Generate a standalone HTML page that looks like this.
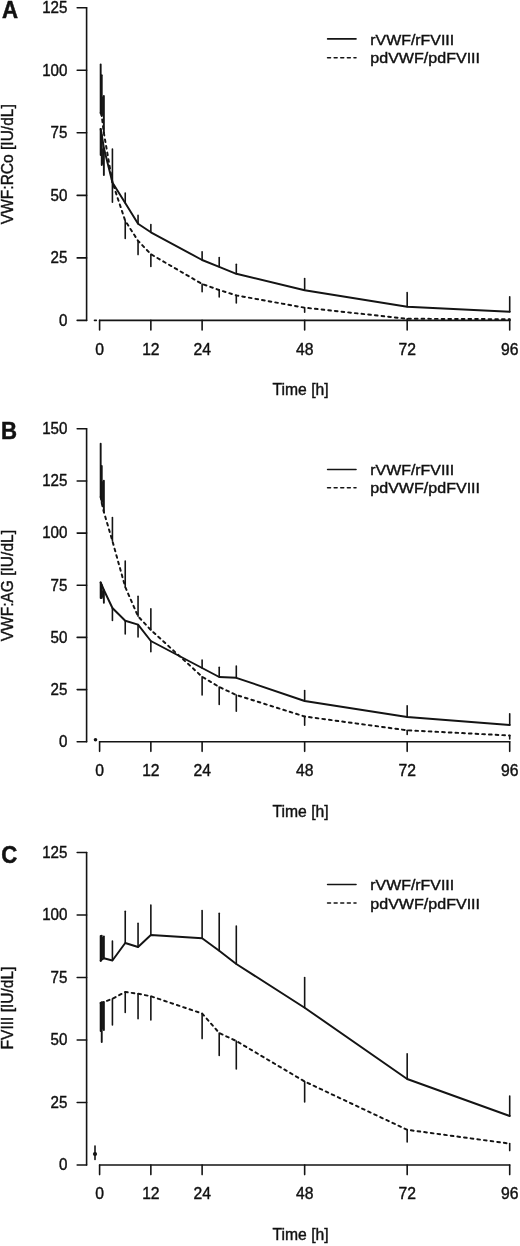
<!DOCTYPE html>
<html lang="en"><head><meta charset="utf-8"><title>Figure</title>
<style>
html,body{margin:0;padding:0;background:#fff;}
body{width:520px;height:1246px;overflow:hidden;}
svg{display:block;filter:blur(0.3px);}
.ln line,.ln polyline{stroke:#141414;stroke-width:1.6;stroke-linecap:round;stroke-linejoin:round;}
.ln polyline.cv{stroke-width:1.95;}
text{font-family:"Liberation Sans",Arial,Helvetica,sans-serif;fill:#111;}
.t{font-size:15.7px;stroke:#111;stroke-width:0.4px;}
.lg{font-size:14.4px;}
.pl{font-size:23.4px;font-weight:bold;stroke:#111;stroke-width:0.5px;}
</style></head><body>
<svg width="520" height="1246" viewBox="0 0 520 1246">
<rect x="0" y="0" width="520" height="1246" fill="#fff"/>
<g class="ln">
<line x1="86.60" y1="7.80" x2="86.60" y2="320.40" />
<line x1="77.20" y1="7.80" x2="86.60" y2="7.80" />
<line x1="77.20" y1="70.30" x2="86.60" y2="70.30" />
<line x1="77.20" y1="132.80" x2="86.60" y2="132.80" />
<line x1="77.20" y1="195.40" x2="86.60" y2="195.40" />
<line x1="77.20" y1="257.90" x2="86.60" y2="257.90" />
<line x1="77.20" y1="320.40" x2="86.60" y2="320.40" />
<line x1="99.60" y1="320.40" x2="509.70" y2="320.40" />
<line x1="99.60" y1="320.40" x2="99.60" y2="330.00" />
<line x1="150.86" y1="320.40" x2="150.86" y2="330.00" />
<line x1="202.12" y1="320.40" x2="202.12" y2="330.00" />
<line x1="304.65" y1="320.40" x2="304.65" y2="330.00" />
<line x1="407.18" y1="320.40" x2="407.18" y2="330.00" />
<line x1="509.70" y1="320.40" x2="509.70" y2="330.00" />
<line x1="100.67" y1="129.00" x2="100.67" y2="155.00" style="stroke-width:1.9"/>
<line x1="100.67" y1="113.00" x2="100.67" y2="64.50" style="stroke-width:1.9"/>
<line x1="101.74" y1="135.00" x2="101.74" y2="165.00" style="stroke-width:1.9"/>
<line x1="101.74" y1="116.00" x2="101.74" y2="75.20" style="stroke-width:1.9"/>
<line x1="103.87" y1="148.00" x2="103.87" y2="175.00" style="stroke-width:1.9"/>
<line x1="103.87" y1="133.00" x2="103.87" y2="96.00" style="stroke-width:1.9"/>
<line x1="112.42" y1="182.60" x2="112.42" y2="149.00" />
<line x1="112.42" y1="182.30" x2="112.42" y2="202.30" />
<line x1="125.23" y1="203.00" x2="125.23" y2="193.00" />
<line x1="125.23" y1="220.80" x2="125.23" y2="238.50" />
<line x1="138.05" y1="223.80" x2="138.05" y2="215.40" />
<line x1="138.05" y1="240.80" x2="138.05" y2="254.60" />
<line x1="150.86" y1="232.30" x2="150.86" y2="224.60" />
<line x1="150.86" y1="254.20" x2="150.86" y2="266.50" />
<line x1="202.12" y1="260.00" x2="202.12" y2="251.80" />
<line x1="202.12" y1="284.00" x2="202.12" y2="291.70" />
<line x1="219.21" y1="266.80" x2="219.21" y2="257.60" />
<line x1="219.21" y1="290.00" x2="219.21" y2="297.00" />
<line x1="236.30" y1="273.80" x2="236.30" y2="264.30" />
<line x1="236.30" y1="295.40" x2="236.30" y2="303.00" />
<line x1="304.65" y1="290.20" x2="304.65" y2="278.50" />
<line x1="304.65" y1="307.70" x2="304.65" y2="312.30" />
<line x1="407.18" y1="306.70" x2="407.18" y2="292.50" />
<line x1="407.18" y1="318.75" x2="407.18" y2="320.00" />
<line x1="509.70" y1="311.70" x2="509.70" y2="296.80" />
<line x1="509.70" y1="319.20" x2="509.70" y2="320.40" />
<line x1="102.80" y1="148.50" x2="102.80" y2="164.50" style="stroke-width:1.4;stroke-linecap:butt"/>
<line x1="102.80" y1="96.50" x2="102.80" y2="115.50" style="stroke-width:1.4;stroke-linecap:butt"/>
<polyline class="cv" points="100.67,129.00 101.74,135.00 103.87,148.00 112.42,182.60 125.23,203.00 138.05,223.80 150.86,232.30 202.12,260.00 219.21,266.80 236.30,273.80 304.65,290.20 407.18,306.70 509.70,311.70" fill="none"/>
<polyline class="cv" points="100.67,113.00 101.74,116.00 103.87,133.00 112.42,182.30 125.23,220.80 138.05,240.80 150.86,254.20 202.12,284.00 219.21,290.00 236.30,295.40 304.65,307.70 407.18,318.75 509.70,319.20" fill="none" stroke-dasharray="2.7 4"/>
<line x1="327.60" y1="38.90" x2="356.00" y2="38.90" />
<line x1="327.60" y1="57.70" x2="356.00" y2="57.70" stroke-dasharray="2.9 3.7"/>
<line x1="94.50" y1="320.40" x2="96.30" y2="320.40" />
</g>
<text class="pl" transform="translate(1.90,18.00) scale(0.95,1)" text-anchor="start">A</text>
<text class="t" transform="translate(67.40,13.00) scale(0.965,1)" text-anchor="end">125</text>
<text class="t" transform="translate(67.40,75.50) scale(0.965,1)" text-anchor="end">100</text>
<text class="t" transform="translate(67.40,138.00) scale(0.965,1)" text-anchor="end">75</text>
<text class="t" transform="translate(67.40,200.60) scale(0.965,1)" text-anchor="end">50</text>
<text class="t" transform="translate(67.40,263.10) scale(0.965,1)" text-anchor="end">25</text>
<text class="t" transform="translate(67.40,325.60) scale(0.965,1)" text-anchor="end">0</text>
<text class="t" transform="translate(99.60,354.60) scale(1.0,1)" text-anchor="middle">0</text>
<text class="t" transform="translate(150.86,354.60) scale(1.0,1)" text-anchor="middle">12</text>
<text class="t" transform="translate(202.12,354.60) scale(1.0,1)" text-anchor="middle">24</text>
<text class="t" transform="translate(304.65,354.60) scale(1.0,1)" text-anchor="middle">48</text>
<text class="t" transform="translate(407.18,354.60) scale(1.0,1)" text-anchor="middle">72</text>
<text class="t" transform="translate(509.70,354.60) scale(1.0,1)" text-anchor="middle">96</text>
<text class="t" transform="translate(300.60,395.30) scale(1.0,1)" text-anchor="middle">Time [h]</text>
<text class="t" transform="translate(13.35,164.20) rotate(-90) scale(0.99,1)" text-anchor="middle">VWF:RCo [IU/dL]</text>
<text class="t lg" transform="translate(370.30,44.80) scale(1.105,1)" text-anchor="start">rVWF/rFVIII</text>
<text class="t lg" transform="translate(370.30,63.30) scale(1.115,1)" text-anchor="start">pdVWF/pdFVIII</text>
<g class="ln">
<line x1="86.60" y1="428.80" x2="86.60" y2="741.75" />
<line x1="77.20" y1="428.80" x2="86.60" y2="428.80" />
<line x1="77.20" y1="480.95" x2="86.60" y2="480.95" />
<line x1="77.20" y1="533.10" x2="86.60" y2="533.10" />
<line x1="77.20" y1="585.30" x2="86.60" y2="585.30" />
<line x1="77.20" y1="637.40" x2="86.60" y2="637.40" />
<line x1="77.20" y1="689.60" x2="86.60" y2="689.60" />
<line x1="77.20" y1="741.75" x2="86.60" y2="741.75" />
<line x1="99.60" y1="741.75" x2="509.70" y2="741.75" />
<line x1="99.60" y1="741.75" x2="99.60" y2="751.35" />
<line x1="150.86" y1="741.75" x2="150.86" y2="751.35" />
<line x1="202.12" y1="741.75" x2="202.12" y2="751.35" />
<line x1="304.65" y1="741.75" x2="304.65" y2="751.35" />
<line x1="407.18" y1="741.75" x2="407.18" y2="751.35" />
<line x1="509.70" y1="741.75" x2="509.70" y2="751.35" />
<line x1="100.67" y1="582.50" x2="100.67" y2="598.00" style="stroke-width:1.9"/>
<line x1="100.67" y1="497.00" x2="100.67" y2="443.80" style="stroke-width:1.9"/>
<line x1="101.74" y1="585.00" x2="101.74" y2="598.00" style="stroke-width:1.9"/>
<line x1="101.74" y1="503.00" x2="101.74" y2="466.00" style="stroke-width:1.9"/>
<line x1="103.87" y1="590.00" x2="103.87" y2="602.70" style="stroke-width:1.9"/>
<line x1="103.87" y1="512.00" x2="103.87" y2="480.80" style="stroke-width:1.9"/>
<line x1="112.42" y1="608.00" x2="112.42" y2="620.50" />
<line x1="112.42" y1="541.00" x2="112.42" y2="517.50" />
<line x1="125.23" y1="620.80" x2="125.23" y2="634.00" />
<line x1="125.23" y1="587.00" x2="125.23" y2="561.00" />
<line x1="138.05" y1="624.60" x2="138.05" y2="637.00" />
<line x1="138.05" y1="616.30" x2="138.05" y2="596.20" />
<line x1="150.86" y1="641.00" x2="150.86" y2="651.75" />
<line x1="150.86" y1="630.00" x2="150.86" y2="608.75" />
<line x1="202.12" y1="668.00" x2="202.12" y2="660.00" />
<line x1="202.12" y1="676.70" x2="202.12" y2="695.00" />
<line x1="219.21" y1="677.00" x2="219.21" y2="667.30" />
<line x1="219.21" y1="687.00" x2="219.21" y2="704.40" />
<line x1="236.30" y1="677.80" x2="236.30" y2="666.00" />
<line x1="236.30" y1="695.00" x2="236.30" y2="711.30" />
<line x1="304.65" y1="701.00" x2="304.65" y2="690.60" />
<line x1="304.65" y1="716.50" x2="304.65" y2="725.20" />
<line x1="407.18" y1="717.00" x2="407.18" y2="705.70" />
<line x1="407.18" y1="730.30" x2="407.18" y2="734.40" />
<line x1="509.70" y1="725.00" x2="509.70" y2="713.70" />
<line x1="509.70" y1="735.50" x2="509.70" y2="739.00" />
<line x1="102.80" y1="590.50" x2="102.80" y2="597.50" style="stroke-width:1.4;stroke-linecap:butt"/>
<line x1="102.80" y1="481.30" x2="102.80" y2="502.50" style="stroke-width:1.4;stroke-linecap:butt"/>
<polyline class="cv" points="100.67,582.50 101.74,585.00 103.87,590.00 112.42,608.00 125.23,620.80 138.05,624.60 150.86,641.00 202.12,668.00 219.21,677.00 236.30,677.80 304.65,701.00 407.18,717.00 509.70,725.00" fill="none"/>
<polyline class="cv" points="100.67,497.00 101.74,503.00 103.87,512.00 112.42,541.00 125.23,587.00 138.05,616.30 150.86,630.00 202.12,676.70 219.21,687.00 236.30,695.00 304.65,716.50 407.18,730.30 509.70,735.50" fill="none" stroke-dasharray="2.7 4"/>
<line x1="327.60" y1="469.50" x2="356.00" y2="469.50" />
<line x1="327.60" y1="487.70" x2="356.00" y2="487.70" stroke-dasharray="2.9 3.7"/>
<circle cx="95.5" cy="739.7" r="1.8" fill="#141414" stroke="none"/>
</g>
<text class="pl" transform="translate(0.90,439.40) scale(0.95,1)" text-anchor="start">B</text>
<text class="t" transform="translate(67.40,434.00) scale(0.965,1)" text-anchor="end">150</text>
<text class="t" transform="translate(67.40,486.15) scale(0.965,1)" text-anchor="end">125</text>
<text class="t" transform="translate(67.40,538.30) scale(0.965,1)" text-anchor="end">100</text>
<text class="t" transform="translate(67.40,590.50) scale(0.965,1)" text-anchor="end">75</text>
<text class="t" transform="translate(67.40,642.60) scale(0.965,1)" text-anchor="end">50</text>
<text class="t" transform="translate(67.40,694.80) scale(0.965,1)" text-anchor="end">25</text>
<text class="t" transform="translate(67.40,746.95) scale(0.965,1)" text-anchor="end">0</text>
<text class="t" transform="translate(99.60,775.95) scale(1.0,1)" text-anchor="middle">0</text>
<text class="t" transform="translate(150.86,775.95) scale(1.0,1)" text-anchor="middle">12</text>
<text class="t" transform="translate(202.12,775.95) scale(1.0,1)" text-anchor="middle">24</text>
<text class="t" transform="translate(304.65,775.95) scale(1.0,1)" text-anchor="middle">48</text>
<text class="t" transform="translate(407.18,775.95) scale(1.0,1)" text-anchor="middle">72</text>
<text class="t" transform="translate(509.70,775.95) scale(1.0,1)" text-anchor="middle">96</text>
<text class="t" transform="translate(300.60,816.65) scale(1.0,1)" text-anchor="middle">Time [h]</text>
<text class="t" transform="translate(13.35,585.70) rotate(-90) scale(0.99,1)" text-anchor="middle">VWF:AG [IU/dL]</text>
<text class="t lg" transform="translate(370.30,475.40) scale(1.105,1)" text-anchor="start">rVWF/rFVIII</text>
<text class="t lg" transform="translate(370.30,493.30) scale(1.115,1)" text-anchor="start">pdVWF/pdFVIII</text>
<g class="ln">
<line x1="86.60" y1="852.50" x2="86.60" y2="1165.00" />
<line x1="77.20" y1="852.50" x2="86.60" y2="852.50" />
<line x1="77.20" y1="915.00" x2="86.60" y2="915.00" />
<line x1="77.20" y1="977.50" x2="86.60" y2="977.50" />
<line x1="77.20" y1="1040.00" x2="86.60" y2="1040.00" />
<line x1="77.20" y1="1102.50" x2="86.60" y2="1102.50" />
<line x1="77.20" y1="1165.00" x2="86.60" y2="1165.00" />
<line x1="99.60" y1="1165.00" x2="509.70" y2="1165.00" />
<line x1="99.60" y1="1165.00" x2="99.60" y2="1174.60" />
<line x1="150.86" y1="1165.00" x2="150.86" y2="1174.60" />
<line x1="202.12" y1="1165.00" x2="202.12" y2="1174.60" />
<line x1="304.65" y1="1165.00" x2="304.65" y2="1174.60" />
<line x1="407.18" y1="1165.00" x2="407.18" y2="1174.60" />
<line x1="509.70" y1="1165.00" x2="509.70" y2="1174.60" />
<line x1="100.67" y1="960.80" x2="100.67" y2="936.00" style="stroke-width:1.9"/>
<line x1="100.67" y1="1003.00" x2="100.67" y2="1031.00" style="stroke-width:1.9"/>
<line x1="101.74" y1="959.50" x2="101.74" y2="935.70" style="stroke-width:1.9"/>
<line x1="101.74" y1="1002.50" x2="101.74" y2="1042.00" style="stroke-width:1.9"/>
<line x1="103.87" y1="958.30" x2="103.87" y2="936.50" style="stroke-width:1.9"/>
<line x1="103.87" y1="1002.00" x2="103.87" y2="1030.00" style="stroke-width:1.9"/>
<line x1="112.42" y1="960.50" x2="112.42" y2="941.00" />
<line x1="112.42" y1="998.75" x2="112.42" y2="1025.00" />
<line x1="125.23" y1="943.00" x2="125.23" y2="911.25" />
<line x1="125.23" y1="992.00" x2="125.23" y2="1012.50" />
<line x1="138.05" y1="947.00" x2="138.05" y2="923.25" />
<line x1="138.05" y1="993.75" x2="138.05" y2="1018.75" />
<line x1="150.86" y1="935.00" x2="150.86" y2="905.00" />
<line x1="150.86" y1="996.25" x2="150.86" y2="1020.00" />
<line x1="202.12" y1="938.30" x2="202.12" y2="910.60" />
<line x1="202.12" y1="1013.50" x2="202.12" y2="1038.60" />
<line x1="219.21" y1="950.80" x2="219.21" y2="913.20" />
<line x1="219.21" y1="1033.00" x2="219.21" y2="1055.40" />
<line x1="236.30" y1="964.00" x2="236.30" y2="926.00" />
<line x1="236.30" y1="1041.00" x2="236.30" y2="1069.00" />
<line x1="304.65" y1="1007.70" x2="304.65" y2="977.50" />
<line x1="304.65" y1="1081.50" x2="304.65" y2="1102.00" />
<line x1="407.18" y1="1079.00" x2="407.18" y2="1053.70" />
<line x1="407.18" y1="1129.80" x2="407.18" y2="1142.00" />
<line x1="509.70" y1="1116.00" x2="509.70" y2="1096.00" />
<line x1="509.70" y1="1143.60" x2="509.70" y2="1150.60" />
<line x1="102.80" y1="937.00" x2="102.80" y2="957.80" style="stroke-width:1.4;stroke-linecap:butt"/>
<line x1="102.80" y1="1003.00" x2="102.80" y2="1029.50" style="stroke-width:1.4;stroke-linecap:butt"/>
<polyline class="cv" points="100.67,960.80 101.74,959.50 103.87,958.30 112.42,960.50 125.23,943.00 138.05,947.00 150.86,935.00 202.12,938.30 219.21,950.80 236.30,964.00 304.65,1007.70 407.18,1079.00 509.70,1116.00" fill="none"/>
<polyline class="cv" points="100.67,1003.00 101.74,1002.50 103.87,1002.00 112.42,998.75 125.23,992.00 138.05,993.75 150.86,996.25 202.12,1013.50 219.21,1033.00 236.30,1041.00 304.65,1081.50 407.18,1129.80 509.70,1143.60" fill="none" stroke-dasharray="2.7 4"/>
<line x1="327.60" y1="884.50" x2="356.00" y2="884.50" />
<line x1="327.60" y1="903.00" x2="356.00" y2="903.00" stroke-dasharray="2.9 3.7"/>
<line x1="95.00" y1="1146.00" x2="95.00" y2="1159.50" />
<circle cx="95" cy="1154" r="2.1" fill="#141414" stroke="none"/>
</g>
<text class="pl" transform="translate(1.30,862.80) scale(0.95,1)" text-anchor="start">C</text>
<text class="t" transform="translate(67.40,857.70) scale(0.965,1)" text-anchor="end">125</text>
<text class="t" transform="translate(67.40,920.20) scale(0.965,1)" text-anchor="end">100</text>
<text class="t" transform="translate(67.40,982.70) scale(0.965,1)" text-anchor="end">75</text>
<text class="t" transform="translate(67.40,1045.20) scale(0.965,1)" text-anchor="end">50</text>
<text class="t" transform="translate(67.40,1107.70) scale(0.965,1)" text-anchor="end">25</text>
<text class="t" transform="translate(67.40,1170.20) scale(0.965,1)" text-anchor="end">0</text>
<text class="t" transform="translate(99.60,1199.20) scale(1.0,1)" text-anchor="middle">0</text>
<text class="t" transform="translate(150.86,1199.20) scale(1.0,1)" text-anchor="middle">12</text>
<text class="t" transform="translate(202.12,1199.20) scale(1.0,1)" text-anchor="middle">24</text>
<text class="t" transform="translate(304.65,1199.20) scale(1.0,1)" text-anchor="middle">48</text>
<text class="t" transform="translate(407.18,1199.20) scale(1.0,1)" text-anchor="middle">72</text>
<text class="t" transform="translate(509.70,1199.20) scale(1.0,1)" text-anchor="middle">96</text>
<text class="t" transform="translate(300.60,1239.90) scale(1.0,1)" text-anchor="middle">Time [h]</text>
<text class="t" transform="translate(13.35,1008.00) rotate(-90) scale(0.99,1)" text-anchor="middle">FVIII [IU/dL]</text>
<text class="t lg" transform="translate(370.30,890.40) scale(1.105,1)" text-anchor="start">rVWF/rFVIII</text>
<text class="t lg" transform="translate(370.30,908.60) scale(1.115,1)" text-anchor="start">pdVWF/pdFVIII</text>
</svg>
</body></html>
